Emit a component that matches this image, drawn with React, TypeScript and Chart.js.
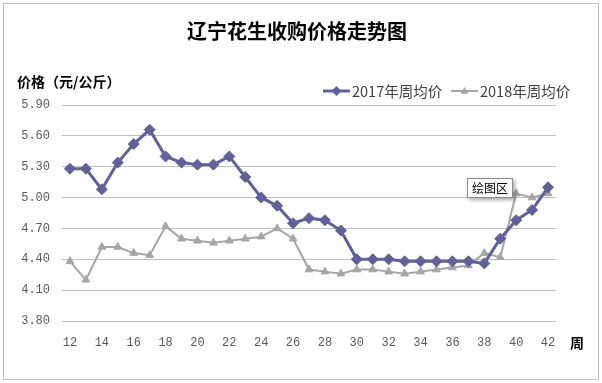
import React, { useEffect, useRef } from 'react';
import { Chart, registerables } from 'chart.js';

Chart.register(...registerables);

const weeks = ['12','13','14','15','16','17','18','19','20','21','22','23','24','25','26','27','28','29','30','31','32','33','34','35','36','37','38','39','40','41','42'];
const price2017 = [5.28,5.28,5.08,5.34,5.52,5.66,5.40,5.34,5.32,5.32,5.40,5.20,5.00,4.92,4.75,4.80,4.78,4.68,4.40,4.40,4.40,4.38,4.38,4.38,4.38,4.38,4.36,4.60,4.78,4.88,5.10];
const price2018 = [4.38,4.20,4.52,4.52,4.46,4.44,4.72,4.60,4.58,4.56,4.58,4.60,4.62,4.70,4.60,4.30,4.28,4.26,4.30,4.30,4.28,4.26,4.28,4.30,4.32,4.34,4.46,4.42,5.04,5.00,5.04];
const yTicks = [3.8, 4.1, 4.4, 4.7, 5.0, 5.3, 5.6, 5.9];

const chartTitle = '辽宁花生收购价格走势图';
const yTitle = '价格（元/公斤）';
const xTitle = '周';
const seriesNames = ['2017年周均价', '2018年周均价'];
const calloutText = '绘图区';

const C2017 = '#60609b';
const C2018 = '#a6a6a6';
const CJK = '"Noto Sans CJK SC", sans-serif';

const decorPlugin = {
  id: 'decor',
  afterDraw(chart: any) {
    const ctx = chart.ctx;
    ctx.save();
    // outer border
    ctx.strokeStyle = '#bfbfbf';
    ctx.lineWidth = 1;
    ctx.strokeRect(3.5, 3.5, 595, 376);

    // title
    ctx.fillStyle = '#000';
    ctx.font = `bold 20px ${CJK}`;
    ctx.textAlign = 'center';
    ctx.textBaseline = 'middle';
    ctx.fillText(chartTitle, 297, 31);

    // y title
    ctx.font = `bold 14px ${CJK}`;
    ctx.textAlign = 'left';
    ctx.fillText(yTitle, 17, 82);

    // x title
    ctx.textAlign = 'center';
    ctx.fillText(xTitle, 577, 343);

    // legend
    const drawItem = (x0: number, color: string, lw: number, style: string, r: number, label: string) => {
      const y = 91;
      ctx.strokeStyle = color;
      ctx.lineWidth = lw;
      ctx.beginPath();
      ctx.moveTo(x0, y);
      ctx.lineTo(x0 + 27, y);
      ctx.stroke();
      ctx.fillStyle = color;
      const cx = x0 + 13.5;
      ctx.beginPath();
      if (style === 'diamond') {
        ctx.moveTo(cx, y - r); ctx.lineTo(cx + r, y); ctx.lineTo(cx, y + r); ctx.lineTo(cx - r, y);
      } else {
        ctx.moveTo(cx, y - r); ctx.lineTo(cx + r, y + r * 0.7); ctx.lineTo(cx - r, y + r * 0.7);
      }
      ctx.closePath();
      ctx.fill();
      ctx.fillStyle = '#404040';
      ctx.font = `14.5px ${CJK}`;
      ctx.textAlign = 'left';
      ctx.textBaseline = 'middle';
      ctx.fillText(label, x0 + 29, y);
    };
    drawItem(323, C2017, 3, 'diamond', 5, seriesNames[0]);
    drawItem(451, C2018, 2, 'triangle', 4, seriesNames[1]);

    // callout box
    ctx.shadowColor = 'rgba(0,0,0,0.35)';
    ctx.shadowBlur = 4;
    ctx.shadowOffsetX = 2;
    ctx.shadowOffsetY = 2;
    ctx.fillStyle = '#fff';
    ctx.fillRect(467, 178, 46, 20);
    ctx.shadowColor = 'transparent';
    ctx.strokeStyle = '#8c8c8c';
    ctx.lineWidth = 1;
    ctx.strokeRect(467.5, 178.5, 45, 19);
    ctx.fillStyle = '#000';
    ctx.font = `12px ${CJK}`;
    ctx.textAlign = 'center';
    ctx.fillText(calloutText, 490, 188.5);
    ctx.restore();
  },
};

export default function App() {
  const ref = useRef<HTMLCanvasElement | null>(null);
  useEffect(() => {
    document.body.style.margin = '0';
    const canvas = ref.current!;
    const chart = new Chart(canvas, {
      type: 'line',
      data: {
        labels: weeks,
        datasets: [
          {
            label: seriesNames[0],
            data: price2017,
            borderColor: C2017,
            backgroundColor: C2017,
            borderWidth: 3,
            pointStyle: 'rectRot',
            pointRadius: 5.5,
            pointBorderWidth: 1,
            tension: 0,
          },
          {
            label: seriesNames[1],
            data: price2018,
            borderColor: C2018,
            backgroundColor: C2018,
            borderWidth: 2,
            pointStyle: 'triangle',
            pointRadius: 4.5,
            pointBorderWidth: 1,
            tension: 0,
          },
        ],
      },
      options: {
        animation: false,
        responsive: false,
        devicePixelRatio: 1,
        layout: { padding: { top: 105, right: 46, bottom: 0, left: 0 } },
        plugins: {
          legend: { display: false },
          title: { display: false },
          tooltip: { enabled: false },
        },
        scales: {
          x: {
            type: 'category',
            offset: true,
            grid: { display: false, drawTicks: false },
            border: { display: false },
            ticks: {
              autoSkip: false,
              maxRotation: 0,
              padding: 15,
              color: '#595959',
              font: { family: '"Liberation Mono", monospace', size: 12 },
              callback: (_v: any, i: number) => (Number(weeks[i]) % 2 === 0 ? weeks[i] : ''),
            },
            afterFit: (s: any) => { s.height = 62; },
          },
          y: {
            min: 3.8,
            max: 5.9,
            grid: { color: '#bfbfbf', lineWidth: 1, drawTicks: false },
            border: { display: false },
            afterBuildTicks: (s: any) => { s.ticks = yTicks.map((v) => ({ value: v })); },
            ticks: {
              padding: 12,
              color: '#595959',
              font: { family: '"Liberation Mono", monospace', size: 12 },
              callback: (v: any) => Number(v).toFixed(2),
            },
            afterFit: (s: any) => { s.width = 62; },
          },
        },
      },
      plugins: [decorPlugin],
    });
    return () => chart.destroy();
  }, []);
  return (
    <div style={{ width: 602, height: 383, position: 'relative', background: '#fff' }}>
      <canvas ref={ref} width={602} height={383} style={{ width: 602, height: 383, display: 'block' }} />
    </div>
  );
}
